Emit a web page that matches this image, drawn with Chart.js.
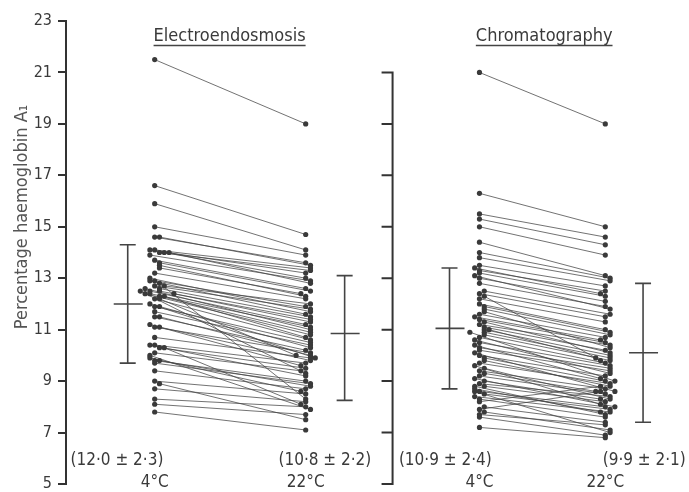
<!DOCTYPE html>
<html>
<head>
<meta charset="utf-8">
<script src="https://cdn.jsdelivr.net/npm/chart.js@4/dist/chart.umd.min.js"></script>
<style>
    html, body { margin: 0; padding: 0; background: #fff; }
    canvas { display: block; }
</style>
</head>
<body>
<canvas id="chart" width="689" height="492"></canvas>
<script>
"use strict";

// values, one entry per subject (4°C -> 22°C)
const panelTitles = ['Electroendosmosis', 'Chromatography'];
const tempLabels = ['4°C', '22°C'];
const summaryLabels = ['(12·0 ± 2·3)', '(10·8 ± 2·2)', '(10·9 ± 2·4)', '(9·9 ± 2·1)'];
const yTicks = [5, 7, 9, 11, 13, 15, 17, 19, 21, 23];

const eeCold = [21.5, 16.6, 15.9, 15.0, 14.6, 14.6, 14.1, 14.0, 14.1, 14.0,
    13.9, 13.7, 13.6, 13.5, 13.4, 13.2, 12.9, 12.8, 12.7, 12.9,
    12.6, 12.5, 12.5, 12.4, 12.6, 12.3, 12.4, 12.3, 12.5, 12.2,
    11.9, 11.7, 11.5, 11.9, 11.1, 11.5, 10.7, 11.1, 10.4, 10.3,
    10.1, 10.4, 9.8, 9.7, 9.8, 9.4, 9.0, 8.7, 8.3, 8.1,
    7.8, 10.3, 12.0, 13.0, 12.2, 9.9, 8.9, 14.0, 12.7, 11.2,
    12.4, 10.0];
const eeWarm = [19.0, 14.7, 14.1, 13.9, 13.6, 13.5, 13.4, 13.3, 13.2, 13.0,
    12.9, 12.6, 12.5, 12.3, 12.4, 12.2, 11.9, 8.3, 11.8, 11.6,
    11.5, 11.4, 11.2, 11.1, 11.0, 10.9, 10.8, 10.7, 9.3, 10.6,
    10.5, 10.4, 10.2, 10.3, 10.1, 10.0, 9.9, 9.8, 9.7, 9.5,
    9.4, 9.2, 9.0, 8.9, 8.8, 8.7, 8.5, 8.2, 8.0, 7.7,
    7.1, 8.1, 9.9, 11.7, 10.0, 8.6, 7.5, 12.8, 12.0, 9.6,
    11.3, 7.9];

const chCold = [21.0, 16.3, 15.5, 15.3, 15.0, 14.4, 14.0, 13.8, 13.5, 13.3,
    13.2, 13.0, 12.8, 13.1, 12.4, 12.2, 12.0, 11.9, 11.6, 11.4,
    11.2, 11.1, 11.3, 11.0, 10.9, 10.8, 10.7, 10.5, 10.3, 10.2,
    10.0, 9.9, 9.7, 9.8, 9.4, 9.2, 8.9, 8.8, 8.6, 8.5,
    8.3, 7.9, 7.7, 7.6, 7.2, 8.6, 11.5, 12.3, 10.6, 11.8,
    10.4, 9.5, 13.4, 11.0, 10.1, 8.8, 12.5, 10.9, 9.6, 11.7,
    8.0, 8.4, 9.0, 9.3, 7.8, 8.7, 9.1, 8.2];
const chWarm = [19.0, 15.0, 14.6, 14.3, 13.9, 13.1, 13.0, 12.9, 12.7, 12.5,
    12.3, 12.1, 11.9, 11.8, 11.5, 11.3, 11.0, 10.9, 10.7, 10.5,
    10.4, 10.2, 10.1, 10.0, 9.9, 9.8, 9.7, 9.6, 9.5, 9.4,
    9.2, 9.0, 8.9, 8.8, 8.7, 8.5, 8.4, 8.2, 8.0, 7.9,
    7.6, 8.6, 7.3, 6.9, 6.8, 7.0, 10.6, 9.8, 9.3, 10.8,
    9.1, 8.3, 12.4, 9.9, 8.6, 7.7, 11.6, 9.0, 8.1, 10.3,
    7.4, 7.8, 8.3, 8.6, 7.1, 7.8, 8.0, 8.8];

// mean line and ends of the bars, as drawn
const barMean = [12.0, 10.85, 11.05, 10.1];
const barUpper = [14.3, 13.1, 13.4, 12.8];
const barLower = [9.7, 8.25, 8.7, 7.4];

// x layout (scale units)
const COL = {eeCold: 1.48, eeWarm: 4.0, chCold: 6.9, chWarm: 9.0};
const BAR_X = [1.03, 4.65, 6.4, 9.63];
const SUMMARY_X = [0.85, 4.32, 6.33, 9.65];
const TITLE_X = [2.73, 7.98];
const MID_AXIS = 5.45;
const NUDGE = 0.08;   // sideways step for dots that sit on top of each other

const FONT = "'DejaVu Sans Condensed', 'DejaVu Sans', sans-serif";
const INK = '#333';

// spread coincident dots a little sideways, like the hand-plotted original
function spread(values, xc) {
    const placed = [];
    return values.map(v => {
        const near = placed.filter(p => Math.abs(p - v) < 0.1).length;
        placed.push(v);
        if (!near) return xc;
        const k = Math.ceil(near / 2);
        return xc + (near % 2 ? 1 : -1) * k * NUDGE;
    });
}

function pairs(cold, warm, xc, xw) {
    const out = [],
        cx = spread(cold, xc),
        wx = spread(warm, xw);
    cold.forEach((v, i) => {
        out.push({x: cx[i], y: v}, {x: wx[i], y: warm[i]}, {x: wx[i], y: null});
    });
    return out;
}

function pairSet(data) {
    return {
        data,
        showLine: true,
        spanGaps: false,
        borderColor: 'rgba(70,70,70,0.85)',
        borderWidth: 0.9,
        pointRadius: 2.6,
        pointBackgroundColor: '#3a3a3a',
        pointBorderWidth: 0
    };
}

const decor = {
    id: 'decor',
    beforeDraw(chart) {
        const {ctx, width, height} = chart;
        ctx.save();
        ctx.fillStyle = '#fff';
        ctx.fillRect(0, 0, width, height);
        ctx.restore();
    },
    afterDatasetsDraw(chart) {
        const {ctx, scales: {x, y}} = chart;
        ctx.save();
        ctx.strokeStyle = INK;
        ctx.fillStyle = INK;

        // second panel axis, ticks only
        const ax = x.getPixelForValue(MID_AXIS);
        ctx.lineWidth = 2;
        ctx.beginPath();
        ctx.moveTo(ax, y.getPixelForValue(21));
        ctx.lineTo(ax, y.getPixelForValue(5) + 1);
        yTicks.filter(t => t <= 21).forEach(t => {
            const py = y.getPixelForValue(t);
            ctx.moveTo(ax + 1, py);
            ctx.lineTo(ax - 11, py);
        });
        ctx.stroke();

        // mean +- SD bars
        ctx.lineWidth = 1.6;
        ctx.strokeStyle = '#444';
        barMean.forEach((m, i) => {
            const bx = x.getPixelForValue(BAR_X[i]),
                top = y.getPixelForValue(barUpper[i]),
                bot = y.getPixelForValue(barLower[i]),
                mid = y.getPixelForValue(m);
            ctx.beginPath();
            ctx.moveTo(bx, top);
            ctx.lineTo(bx, bot);
            ctx.moveTo(bx - 8, top);
            ctx.lineTo(bx + 8, top);
            ctx.moveTo(bx - 8, bot);
            ctx.lineTo(bx + 8, bot);
            ctx.moveTo(bx - 14, mid);
            ctx.lineTo(bx + 15, mid);
            ctx.stroke();
        });

        // texts
        ctx.fillStyle = '#3a3a3a';
        ctx.textAlign = 'center';
        ctx.textBaseline = 'middle';
        ctx.font = '17px ' + FONT;
        summaryLabels.forEach((t, i) => {
            ctx.fillText(t, x.getPixelForValue(SUMMARY_X[i]), y.getPixelForValue(5.93));
        });
        [COL.eeCold, COL.eeWarm, COL.chCold, COL.chWarm].forEach((c, i) => {
            ctx.fillText(tempLabels[i % 2], x.getPixelForValue(c), y.getPixelForValue(5.05));
        });

        ctx.font = '18px ' + FONT;
        ctx.lineWidth = 1.6;
        panelTitles.forEach((t, i) => {
            const cx = x.getPixelForValue(TITLE_X[i]),
                cy = y.getPixelForValue(22.4),
                w = ctx.measureText(t).width;
            ctx.fillText(t, cx, cy);
            ctx.beginPath();
            ctx.moveTo(cx - w / 2, cy + 9);
            ctx.lineTo(cx + w / 2, cy + 9);
            ctx.stroke();
        });

        // y title
        ctx.font = '18px ' + FONT;
        ctx.fillStyle = '#555';
        ctx.translate(22, 217);
        ctx.rotate(-Math.PI / 2);
        ctx.fillText('Percentage haemoglobin A\u2081', 0, 0);
        ctx.restore();
    }
};

new Chart(document.getElementById('chart'), {
    type: 'scatter',
    data: {
        datasets: [
            pairSet(pairs(eeCold, eeWarm, COL.eeCold, COL.eeWarm)),
            pairSet(pairs(chCold, chWarm, COL.chCold, COL.chWarm))
        ]
    },
    options: {
        responsive: false,
        animation: false,
        devicePixelRatio: 1,
        layout: {padding: {left: 0, right: 3, top: 21, bottom: 8}},
        plugins: {legend: {display: false}, tooltip: {enabled: false}},
        scales: {
            x: {type: 'linear', min: 0, max: 10.33, display: false},
            y: {
                min: 5,
                max: 23,
                afterFit(scale) {
                    scale.width = 66;
                    scale.paddingTop = 0;
                    scale.paddingBottom = 0;
                },
                afterBuildTicks(scale) {
                    scale.ticks = yTicks.map(v => ({value: v}));
                },
                border: {display: true, color: INK, width: 2},
                grid: {drawOnChartArea: false, drawTicks: true, tickLength: 8, color: INK, lineWidth: 2},
                ticks: {color: '#3a3a3a', padding: 6, font: {family: FONT, size: 16}}
            }
        }
    },
    plugins: [decor]
});
</script>
</body>
</html>
